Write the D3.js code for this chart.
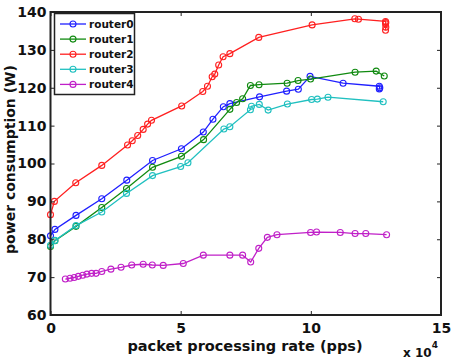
<!DOCTYPE html>
<html><head><meta charset="utf-8">
<script src="https://cdn.jsdelivr.net/npm/d3@7"></script>
<style>body{margin:0;background:#fff}svg{display:block}</style>
</head><body>
<script>
const seriesNames = ["router0","router1","router2","router3","router4"];
const seriesColors = ["#1f1fff","#108a10","#ff2020","#20c0c0","#c020c8"];
const xTicks = [0,5,10,15];
const yTicks = [60,70,80,90,100,110,120,130,140];
const router0 = [[0,80.9],[0.17,82.6],[0.98,86.3],[1.97,90.7],[2.93,95.6],[3.92,100.8],[5.03,103.9],[5.87,108.3],[6.24,111.7],[6.64,115],[6.89,115.8],[8.03,117.6],[9.07,119.1],[9.52,119.6],[9.97,123],[11.24,121.2],[12.63,120.4],[12.65,120],[12.63,119.7]];
const router1 = [[0,78.1],[0.17,79.6],[0.98,83.4],[1.97,88.4],[2.92,93.4],[3.92,99],[5.03,101.9],[5.88,106.3],[6.89,114.3],[7.15,116.1],[7.38,117.1],[7.68,120.6],[8.01,120.8],[9.09,121.2],[9.51,121.9],[9.99,122.3],[11.7,124.1],[12.51,124.4],[12.82,123.1]];
const router2 = [[0,86.5],[0.15,90],[0.97,94.9],[1.97,99.5],[2.96,104.9],[3.14,106],[3.35,107.4],[3.56,109],[3.73,110.4],[3.88,111.4],[5.04,115.2],[5.85,119],[6.03,120.4],[6.21,122.9],[6.31,123.6],[6.46,126],[6.63,128.2],[6.89,129],[8.0,133.3],[10.05,136.6],[11.69,138.2],[11.83,138.1],[12.87,137.5],[12.88,137.2],[12.87,136.9],[12.88,136],[12.87,135.2]];
const router3 = [[0,78.4],[0.17,79.7],[0.98,83.6],[1.97,87.2],[2.92,92.1],[3.92,96.8],[5.0,99.2],[5.28,100.2],[6.66,109.1],[6.89,109.7],[7.68,114.2],[7.72,115.1],[8.02,115.6],[8.36,114.1],[9.1,115.7],[10.03,116.9],[10.25,117],[10.66,117.5],[12.78,116.3]];
const router4 = [[0.57,69.5],[0.75,69.7],[0.91,69.9],[1.07,70.2],[1.24,70.5],[1.4,70.8],[1.58,71],[1.75,71],[1.97,71.5],[2.32,72.1],[2.71,72.6],[3.12,73.2],[3.56,73.4],[3.91,73.2],[4.33,73.1],[5.1,73.6],[5.87,75.8],[6.89,75.8],[7.38,75.8],[7.69,74],[8.0,77.6],[8.33,80.5],[8.7,81.2],[9.99,81.8],[10.22,81.9],[11.13,81.8],[11.7,81.5],[12.11,81.5],[12.91,81.2]];
const allData = [router0, router1, router2, router3, router4];

const W = 453, H = 360;
const L = 50.5, R = 441, T = 12, B = 315;
const svg = d3.select("body").append("svg").attr("width", W).attr("height", H);
svg.append("rect").attr("width", W).attr("height", H).attr("fill", "#fff");
const x = d3.scaleLinear().domain([0,15]).range([L,R]);
const y = d3.scaleLinear().domain([60,140]).range([B,T]);
const font = "'DejaVu Sans', sans-serif";

// series
const line = d3.line().x(d => x(d[0])).y(d => y(d[1]));
allData.forEach((data, i) => {
  const g = svg.append("g");
  g.append("path").attr("d", line(data)).attr("fill","none")
    .attr("stroke", seriesColors[i]).attr("stroke-width", 1.3);
  g.selectAll("circle").data(data).enter().append("circle")
    .attr("cx", d => x(d[0])).attr("cy", d => y(d[1])).attr("r", 3)
    .attr("fill","none").attr("stroke", seriesColors[i]).attr("stroke-width", 1.1);
});

// axes (inside ticks, box)
const tickLen = 4;
const axB = svg.append("g").attr("transform", `translate(0,${B})`)
  .call(d3.axisBottom(x).tickValues(xTicks).tickSizeInner(-tickLen).tickSizeOuter(0).tickPadding(8));
const axT = svg.append("g").attr("transform", `translate(0,${T})`)
  .call(d3.axisTop(x).tickValues(xTicks).tickSizeInner(-tickLen).tickSizeOuter(0).tickFormat(""));
const axL = svg.append("g").attr("transform", `translate(${L},0)`)
  .call(d3.axisLeft(y).tickValues(yTicks).tickSizeInner(-tickLen).tickSizeOuter(0).tickPadding(4));
const axR = svg.append("g").attr("transform", `translate(${R},0)`)
  .call(d3.axisRight(y).tickValues(yTicks).tickSizeInner(-tickLen).tickSizeOuter(0).tickFormat(""));
[axB, axT, axL, axR].forEach(a => {
  a.select(".domain").remove();
  a.selectAll(".tick line").attr("stroke", "#222").attr("stroke-width", 1);
  a.selectAll("text").attr("font-family", font).attr("font-weight", "bold")
    .attr("font-size", 14).attr("fill", "#111");
});
axB.selectAll("text").attr("dy", "0.71em");
svg.append("rect").attr("x", L).attr("y", T).attr("width", R - L).attr("height", B - T)
  .attr("fill","none").attr("stroke","#222").attr("stroke-width", 2);

// labels
svg.append("text").attr("x", 245).attr("y", 351).attr("text-anchor","middle")
  .attr("font-family", font).attr("font-weight","bold").attr("font-size", 14.5).attr("fill","#111")
  .text("packet processing rate (pps)");
svg.append("text").attr("transform", `translate(15,${(T+B)/2 - 4}) rotate(-90)`).attr("text-anchor","middle")
  .attr("font-family", font).attr("font-weight","bold").attr("font-size", 14).attr("fill","#111")
  .text("power consumption (W)");
const ex = svg.append("text").attr("x", 403).attr("y", 357)
  .attr("font-family", font).attr("font-weight","bold").attr("font-size", 12).attr("fill","#111");
ex.append("tspan").text("x 10");
ex.append("tspan").attr("dy", -9).attr("font-size", 9).text("4");

// legend
const lg = svg.append("g");
lg.append("rect").attr("x", 54.5).attr("y", 13.5).attr("width", 80).attr("height", 81)
  .attr("fill","#fff").attr("stroke","#222").attr("stroke-width", 1.5);
seriesNames.forEach((n, i) => {
  const yy = 24 + i * 15.1;
  lg.append("line").attr("x1", 60).attr("x2", 86).attr("y1", yy).attr("y2", yy)
    .attr("stroke", seriesColors[i]).attr("stroke-width", 1.3);
  lg.append("circle").attr("cx", 73).attr("cy", yy).attr("r", 3)
    .attr("fill","none").attr("stroke", seriesColors[i]).attr("stroke-width", 1.1);
  lg.append("text").attr("x", 89).attr("y", yy + 3.8).attr("font-family", font)
    .attr("font-weight","bold").attr("font-size", 10.5).attr("fill","#111").text(n);
});
</script>
</body></html>
